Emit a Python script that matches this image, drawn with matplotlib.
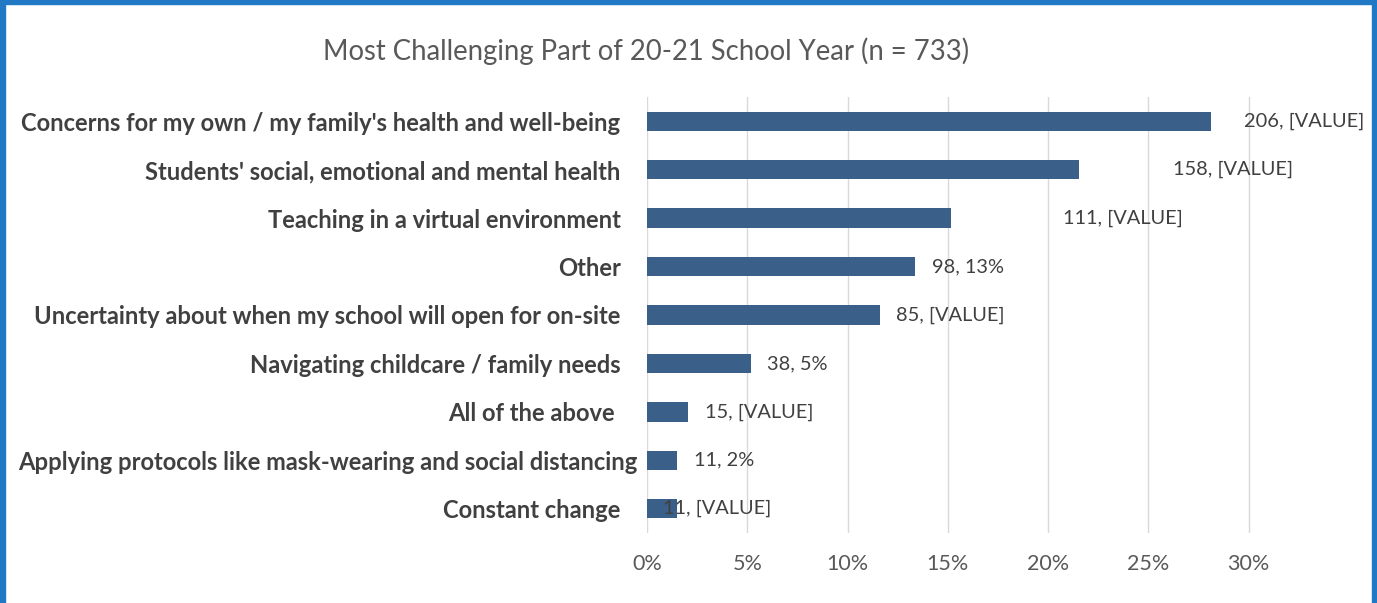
import matplotlib
matplotlib.use("Agg")
import matplotlib.pyplot as plt
from matplotlib.patches import Rectangle
from matplotlib.transforms import ScaledTranslation

categories = [
    "Concerns for my own / my family's health and well-being",
    "Students' social, emotional and mental health",
    "Teaching in a virtual environment",
    "Other",
    "Uncertainty about when my school will open for on-site",
    "Navigating childcare / family needs",
    "All of the above ",
    "Applying protocols like mask-wearing and social distancing",
    "Constant change",
]
counts = [206, 158, 111, 98, 85, 38, 15, 11, 11]
total = 733
label_texts = ["206, [VALUE]", "158, [VALUE]", "111, [VALUE]", "98, 13%", "85, [VALUE]",
               "38, 5%", "15, [VALUE]", "11, 2%", "11, [VALUE]"]
xtick_vals = [0, 0.05, 0.10, 0.15, 0.20, 0.25, 0.30]
xtick_labels = ["0%", "5%", "10%", "15%", "20%", "25%", "30%"]
title = "Most Challenging Part of 20-21 School Year (n = 733)"

# label offsets in pixels (from bar end)
label_offsets = [33, 94, 112, 17, 16, 16, 17, 17, -14]
# horizontal shift (pixels) of category labels
cat_shifts = [0, 0, 0, 0, 0, 0, 0, 17, 0]

shares = [c / total for c in counts]

FONT = "Lato"
W, H = 1377, 603
fig = plt.figure(figsize=(W / 100, H / 100), dpi=100)
fig.patch.set_facecolor("white")

ax = fig.add_axes([647 / W, 1 - 533 / H, (1349 - 647) / W, (533 - 97) / H])
ypos = list(range(len(categories)))
ax.barh(ypos, shares, height=0.4, color="#3A6089", zorder=3)
ax.set_ylim(len(categories) - 0.5, -0.5)
ax.set_xlim(0, 0.35)
ax.set_xticks(xtick_vals)
ax.set_xticklabels(xtick_labels, fontsize=15.5, color="#595959", family=FONT)
ax.set_yticks(ypos)
ax.set_yticklabels(categories, fontsize=17.1, color="#404040", family=FONT,
                   fontweight="bold")
ax.tick_params(axis="both", length=0)
ax.tick_params(axis="y", pad=19)
ax.tick_params(axis="x", pad=15)
for lbl, sh in zip(ax.get_yticklabels(), cat_shifts):
    if sh:
        lbl.set_transform(lbl.get_transform() + ScaledTranslation(sh / 100, 0, fig.dpi_scale_trans))
for s in ax.spines.values():
    s.set_visible(False)
ax.grid(axis="x", color="#D9D9D9", linewidth=1, zorder=0)
ax.set_axisbelow(True)

for y, v, t, off in zip(ypos, shares, label_texts, label_offsets):
    ax.annotate(t, xy=(v, y), xytext=(off * 0.72, 0), textcoords="offset points",
                ha="left", va="center", fontsize=14.4, color="#404040",
                family=FONT, zorder=4)

fig.text(646 / W, 1 - 51 / H, title, ha="center", va="center", fontsize=19.8,
         color="#595959", family=FONT)

# blue frame
blue = "#2179C5"
fig.patches.append(Rectangle((0, 0), 5 / W, 1, transform=fig.transFigure, color=blue, zorder=10))
fig.patches.append(Rectangle((0, 1 - 4 / H), 1, 4 / H, transform=fig.transFigure, color=blue, zorder=10))
fig.patches.append(Rectangle((1 - 5 / W, 0), 5 / W, 1, transform=fig.transFigure, color=blue, zorder=10))

fig.savefig("out.png", dpi=100, facecolor="white")
